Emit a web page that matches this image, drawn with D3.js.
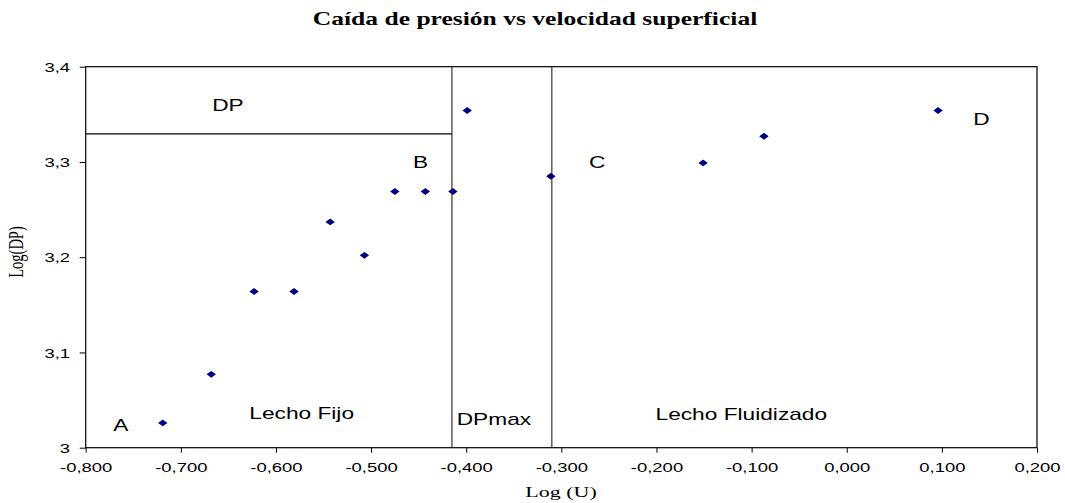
<!DOCTYPE html>
<meta charset="utf-8">
<head>
<title>Caída de presión vs velocidad superficial</title>
</head>
<style>
html, body { margin: 0; background: #fff; overflow: hidden; }
text { font-family: Arial, "Liberation Sans", sans-serif; fill: #000; }
.serif { font-family: "Times New Roman", "Liberation Serif", serif; }
.tick line { stroke: #000; }
</style>
<body>
<script src="https://cdn.jsdelivr.net/npm/d3@7"></script>
<script>

// data
var logU  = [-0.719, -0.668, -0.623, -0.581, -0.543, -0.507, -0.475, -0.443, -0.414, -0.399, -0.311, -0.151, -0.087, 0.096];
var logDP = [3.026, 3.077, 3.164, 3.164, 3.237, 3.202, 3.269, 3.269, 3.269, 3.354, 3.285, 3.299, 3.327, 3.354];

var xTicks = [-0.8, -0.7, -0.6, -0.5, -0.4, -0.3, -0.2, -0.1, 0.0, 0.1, 0.2];
var yTicks = [3, 3.1, 3.2, 3.3, 3.4];
var yTickLabels = ["3", "3,1", "3,2", "3,3", "3,4"];

// zone boundaries
var zoneX = [-0.415, -0.310];
var dpLevel = 3.3295;

// annotations (data units)
var notes = ["DP", "A", "B", "C", "D", "Lecho Fijo", "DPmax", "Lecho Fluidizado"];
var noteU = [-0.667, -0.771, -0.456, -0.271, 0.133, -0.628, -0.410, -0.201];
var noteDP = [3.3535, 3.0175, 3.2937, 3.2937, 3.3388, 3.0302, 3.0239, 3.0291];

var width = 1065, height = 503;
var sx = 1.42; // the picture is drawn wide

var svg = d3.select("body").append("svg")
    .attr("width", width)
    .attr("height", height);

var x = d3.scaleLinear().domain([-0.8, 0.2]).range([85.7, 1037]);
var y = d3.scaleLinear().domain([3, 3.4]).range([447.7, 66.7]);

function wideText(g, px, py, str, size, cls) {
    return g.append("text")
        .attr("class", cls || null)
        .attr("transform", "translate(" + px + "," + py + ") scale(" + sx + ",1)")
        .style("font-size", size + "px")
        .text(str);
}

// title
wideText(svg, 535, 25, "Caída de presión vs velocidad superficial", 18, "serif")
    .attr("text-anchor", "middle")
    .style("font-weight", "bold");

// axes
var xAxis = d3.axisBottom(x)
    .tickValues(xTicks)
    .tickSize(5)
    .tickSizeOuter(0)
    .tickFormat(function (d) { return d3.format(".3f")(d).replace(".", ",").replace("−", "-"); });

var gx = svg.append("g")
    .attr("transform", "translate(0," + y(3) + ")")
    .call(xAxis);
gx.select(".domain").remove();
gx.selectAll(".tick text")
    .attr("y", 0)
    .attr("dy", 0)
    .attr("transform", "translate(0,24) scale(" + sx + ",1)")
    .style("font-size", "13px")
    .style("font-family", "Arial, 'Liberation Sans', sans-serif");

var yAxis = d3.axisLeft(y)
    .tickValues(yTicks)
    .tickSize(6)
    .tickSizeOuter(0)
    .tickFormat(function (d, i) { return yTickLabels[i]; });

var gy = svg.append("g")
    .attr("transform", "translate(" + x(-0.8) + ",0)")
    .call(yAxis);
gy.select(".domain").remove();
gy.selectAll(".tick text")
    .attr("x", -11)
    .attr("dy", "0.35em")
    .attr("transform", "scale(" + sx + ",1)")
    .style("font-size", "13px")
    .style("font-family", "Arial, 'Liberation Sans', sans-serif");

// axis titles
wideText(svg, 561, 497, "Log (U)", 15.5, "serif").attr("text-anchor", "middle");

svg.append("text")
    .attr("class", "serif")
    .attr("text-anchor", "middle")
    .attr("transform", "translate(23,252) scale(" + sx + ",1) rotate(-90)")
    .style("font-size", "14.5px")
    .text("Log(DP)");

// plot frame
svg.append("rect")
    .attr("x", x(-0.8))
    .attr("y", y(3.4))
    .attr("width", x(0.2) - x(-0.8))
    .attr("height", y(3) - y(3.4))
    .attr("fill", "none")
    .attr("stroke", "#000")
    .attr("stroke-width", 1.2);

// zone lines
svg.selectAll(".zone")
    .data(zoneX)
    .enter().append("line")
    .attr("class", "zone")
    .attr("x1", function (d) { return x(d); })
    .attr("x2", function (d) { return x(d); })
    .attr("y1", y(3.4))
    .attr("y2", y(3))
    .attr("stroke", "#333")
    .attr("stroke-width", 1.2);

svg.append("line")
    .attr("x1", x(-0.8))
    .attr("x2", x(zoneX[0]))
    .attr("y1", y(dpLevel))
    .attr("y2", y(dpLevel))
    .attr("stroke", "#000")
    .attr("stroke-width", 1.2);

// points
var pts = logU.map(function (u, i) { return { u: u, dp: logDP[i] }; });
svg.selectAll(".pt")
    .data(pts)
    .enter().append("path")
    .attr("class", "pt")
    .attr("d", "M0,-3.4L4.7,0L0,3.4L-4.7,0Z")
    .attr("transform", function (d) { return "translate(" + x(d.u) + "," + y(d.dp) + ")"; })
    .attr("fill", "#000080");

// annotations
notes.forEach(function (s, i) {
    wideText(svg, x(noteU[i]), y(noteDP[i]), s, 16);
});

</script>
</body>
